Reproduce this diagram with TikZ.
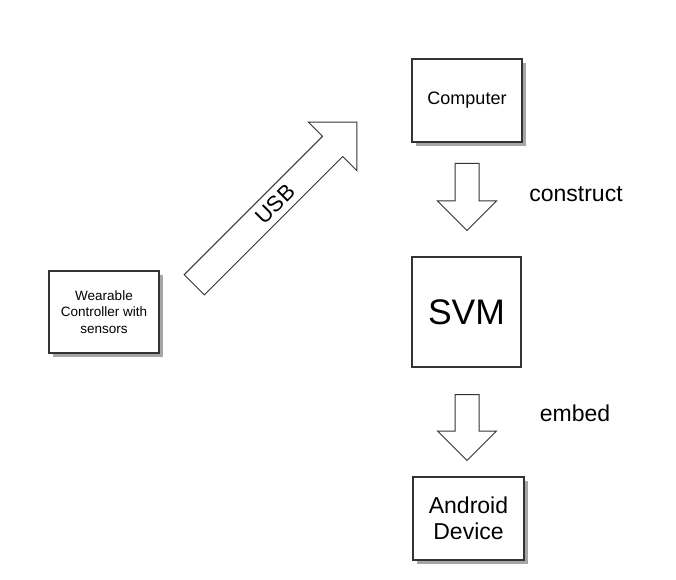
\documentclass[tikz,border=0pt]{standalone}
\usepackage{fontspec}
\setmainfont{Liberation Sans}
\usetikzlibrary{shapes.arrows,shadows}

\tikzset{
    box/.style={draw=black!80, line width=1.2pt, fill=white, align=center, inner sep=2pt},
    shadowed/.style={drop shadow={shadow xshift=4pt, shadow yshift=-4pt, fill=black!35, opacity=1}},
    blockarrow/.style={single arrow, draw=black!80, line width=1pt, fill=white,
        single arrow tip angle=90, inner xsep=0pt},
    steplabel/.style={font=\fontsize{23}{26}\selectfont}
}

\begin{document}
\begin{tikzpicture}[x=1pt,y=1pt]
    % page frame
    \useasboundingbox (0,0) rectangle (676,579);
    % boxes
    \node[box, shadowed, minimum width=110pt, minimum height=82pt,
        font=\fontsize{13.5}{16.5}\selectfont] (wear) at (104,267)
        {Wearable\\Controller with\\sensors};
    \node[box, shadowed, minimum width=110pt, minimum height=83pt,
        font=\fontsize{18}{21}\selectfont] (comp) at (467,478.5) {Computer};
    \node[box, minimum width=109pt, minimum height=110pt,
        font=\fontsize{35.5}{40}\selectfont] (svm) at (466.5,267) {SVM};
    \node[box, shadowed, minimum width=111pt, minimum height=83pt,
        font=\fontsize{23}{26}\selectfont] (droid) at (468.5,60.5) {Android\\Device};
    % block arrows
    \node[blockarrow, rotate=45, minimum height=230pt, inner ysep=6pt,
        single arrow head extend=20pt, font=\fontsize{22}{24}\selectfont] (usb) at (270.5,370.5)
        {USB\hspace*{-12.8pt}};
    \node[blockarrow, rotate=-90, minimum height=67pt, inner ysep=11.5pt,
        single arrow head extend=17.5pt] (arrC) at (467,388) {};
    \node[blockarrow, rotate=-90, minimum height=66pt, inner ysep=11.5pt,
        single arrow head extend=17.5pt] (arrE) at (467,157.5) {};
    % labels
    \node[steplabel] (lblC) at (576,385) {construct};
    \node[steplabel] (lblE) at (575,166) {embed};
\end{tikzpicture}
\end{document}
